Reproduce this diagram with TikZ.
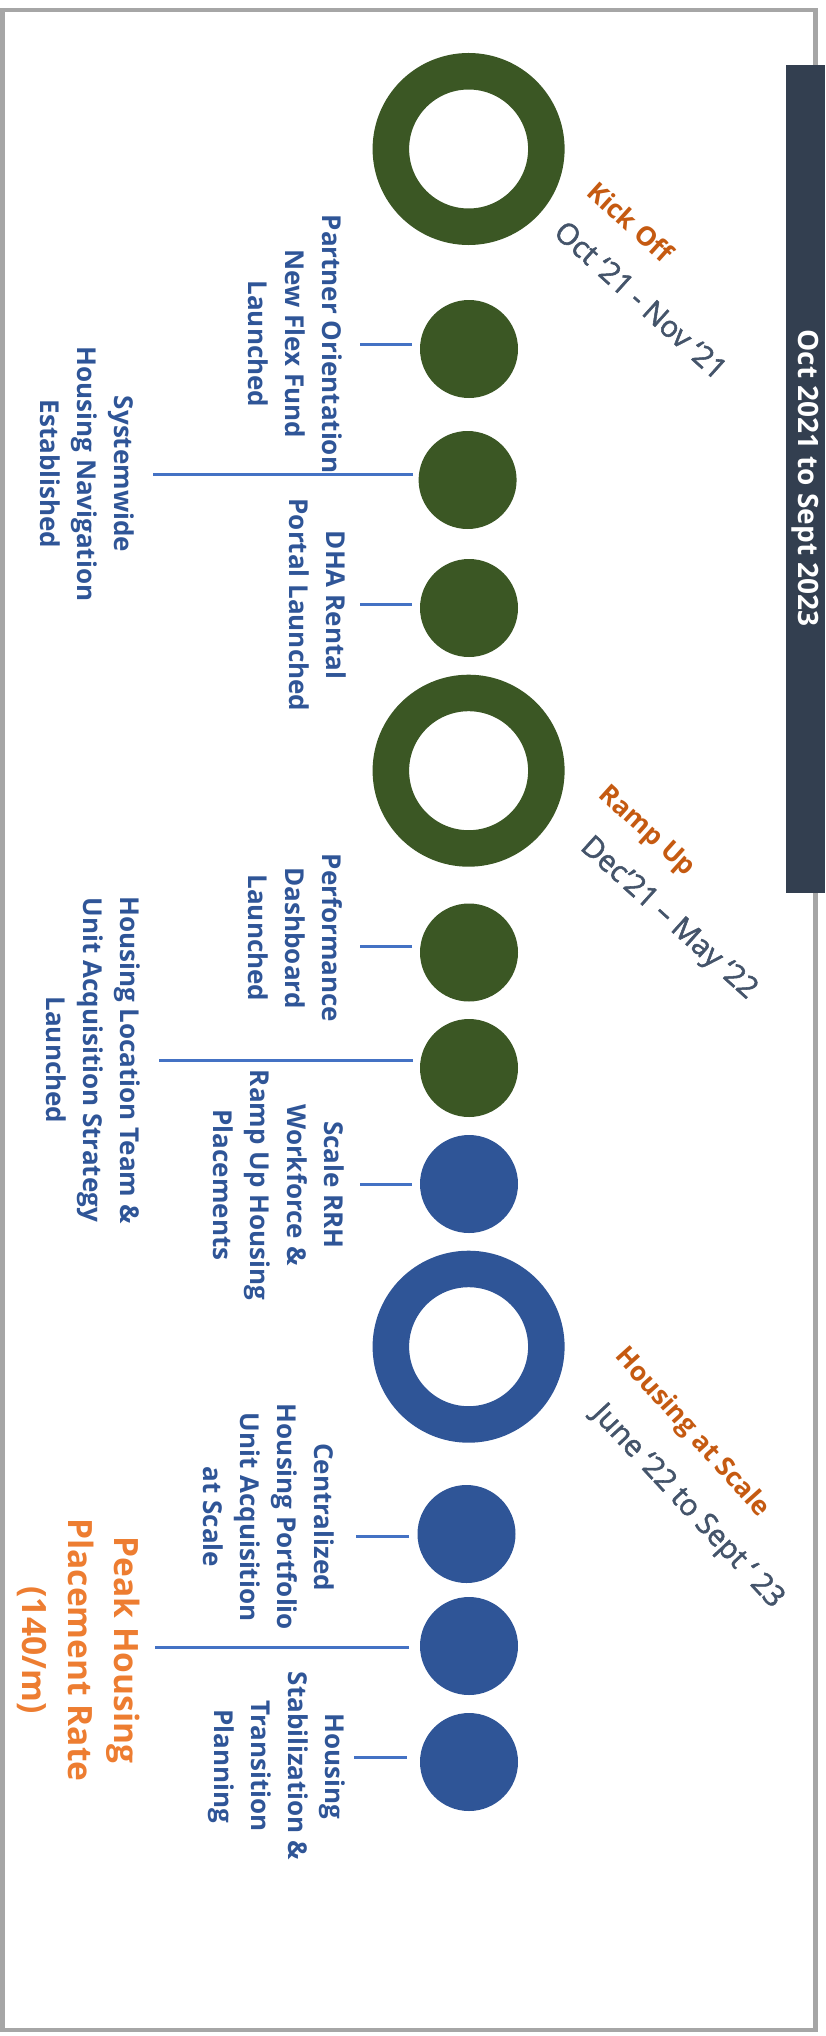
\documentclass[tikz,border=0pt]{standalone}
\usepackage{fontspec}
\setmainfont{Open Sans}
\newfontfamily\datefont[FakeBold=1.8]{Open Sans}
\definecolor{dgreen}{HTML}{3B5724}
\definecolor{dblue}{HTML}{2F5597}
\definecolor{tblue}{HTML}{2F5597}
\definecolor{lblue}{HTML}{4472C4}
\definecolor{rorange}{HTML}{C55A11}
\definecolor{porange}{HTML}{ED7D31}
\definecolor{slate}{HTML}{44546A}
\definecolor{barcol}{HTML}{333F50}
\definecolor{bordergrey}{HTML}{A6A6A6}
\tikzset{
  ringG/.style={circle, draw=dgreen, line width=36.5pt, minimum size=155.5pt, inner sep=0pt},
  ringB/.style={circle, draw=dblue, line width=36.5pt, minimum size=155.5pt, inner sep=0pt},
  dotG/.style={circle, fill=dgreen, minimum size=98pt, inner sep=0pt},
  dotB/.style={circle, fill=dblue, minimum size=98pt, inner sep=0pt},
  tickline/.style={draw=lblue, line width=3pt},
  mtext/.style={rotate=-90, align=center, text=tblue, inner sep=0pt, font=\bfseries\fontsize{26}{37}\selectfont},
  phase/.style={text=rorange, inner sep=0pt, font=\bfseries\fontsize{26.5}{30}\selectfont},
  datelab/.style={text=slate, inner sep=0pt, font=\datefont\fontsize{29.5}{32}\selectfont},
}
\begin{document}
\begin{tikzpicture}[x=1pt,y=-1pt]
\useasboundingbox (0,0) rectangle (825,2036);
\draw[line width=4.5pt, bordergrey] (2.5,10) rectangle (815.5,2030);
\fill[barcol] (786,65) rectangle (825,893);
\node[rotate=-90, text=white, inner sep=0pt, font=\bfseries\fontsize{28}{34}\selectfont] (bartxt) at (805.5,478) {Oct 2021 to Sept 2023};

% rings
\node[ringG] (r1) at (468.6,149) {};
\node[ringG] (r2) at (468.6,770.7) {};
\node[ringB] (r3) at (468.6,1346.7) {};

% dots
\node[dotG] (c1) at (469,349) {};
\node[dotG] (c2) at (467.6,480) {};
\node[dotG] (c3) at (469,608) {};
\node[dotG] (c4) at (469,952.5) {};
\node[dotG] (c5) at (469,1068) {};
\node[dotB] (c6) at (469,1184) {};
\node[dotB] (c7) at (466.5,1534) {};
\node[dotB] (c8) at (469,1646) {};
\node[dotB] (c9) at (469,1762) {};

% phase labels
\node[phase, rotate=-42] (p1) at (631,222) {Kick Off};
\node[datelab, rotate=-42] (d1) at (641,300) {Oct ‘21 - Nov ‘21};
\node[phase, rotate=-42] (p2) at (646,832) {Ramp Up};
\node[datelab, rotate=-42] (d2) at (668,919) {Dec’21 – May ‘22};
\node[phase, rotate=-48] (p3) at (692,1433) {Housing at Scale};
\node[datelab, rotate=-47] (d3) at (687,1507) {June ‘22 to Sept ‘ 23};

% milestone texts
\node[mtext] (t1) at (295,344) {Partner Orientation\\New Flex Fund\\Launched};
\node[mtext] (t2) at (87,474) {Systemwide\\Housing Navigation\\Established};
\node[mtext] (t3) at (317.5,605) {DHA Rental\\Portal Launched};
\node[mtext] (t4) at (295,938) {Performance\\Dashboard\\Launched};
\node[mtext] (t5) at (93.7,1060) {Housing Location Team \&\\Unit Acquisition Strategy\\Launched};
\node[mtext] (t6) at (279,1185) {Scale RRH\\Workforce \&\\Ramp Up Housing\\Placements};
\node[mtext] (t7) at (268.5,1517) {Centralized\\Housing Portfolio\\Unit Acquisition\\at Scale};
\node[mtext, text=porange, font=\bfseries\fontsize{33.5}{46}\selectfont] (t8) at (79,1650) {Peak Housing\\Placement Rate\\(140/m)};
\node[mtext] (t9) at (276.5,1766) {Housing\\Stabilization \&\\Transition\\Planning};

% connectors
\coordinate (e1) at (359.5,344);   \coordinate (s1) at (412,344);
\coordinate (e2) at (152.6,474.3); \coordinate (s2) at (413,474.3);
\coordinate (e3) at (359.5,604.7); \coordinate (s3) at (412,604.7);
\coordinate (e4) at (359.5,946);   \coordinate (s4) at (412,946);
\coordinate (e5) at (159,1060);    \coordinate (s5) at (413,1060);
\coordinate (e6) at (359.5,1184);  \coordinate (s6) at (412,1184);
\coordinate (e7) at (356,1536.7);  \coordinate (s7) at (409,1536.7);
\coordinate (e8) at (154.7,1647.7);\coordinate (s8) at (409,1647.7);
\coordinate (e9) at (353.7,1757.3);\coordinate (s9) at (406.8,1757.3);
\draw[tickline] (s1) -- (e1);
\draw[tickline] (s2) -- (e2);
\draw[tickline] (s3) -- (e3);
\draw[tickline] (s4) -- (e4);
\draw[tickline] (s5) -- (e5);
\draw[tickline] (s6) -- (e6);
\draw[tickline] (s7) -- (e7);
\draw[tickline] (s8) -- (e8);
\draw[tickline] (s9) -- (e9);
\end{tikzpicture}
\end{document}
